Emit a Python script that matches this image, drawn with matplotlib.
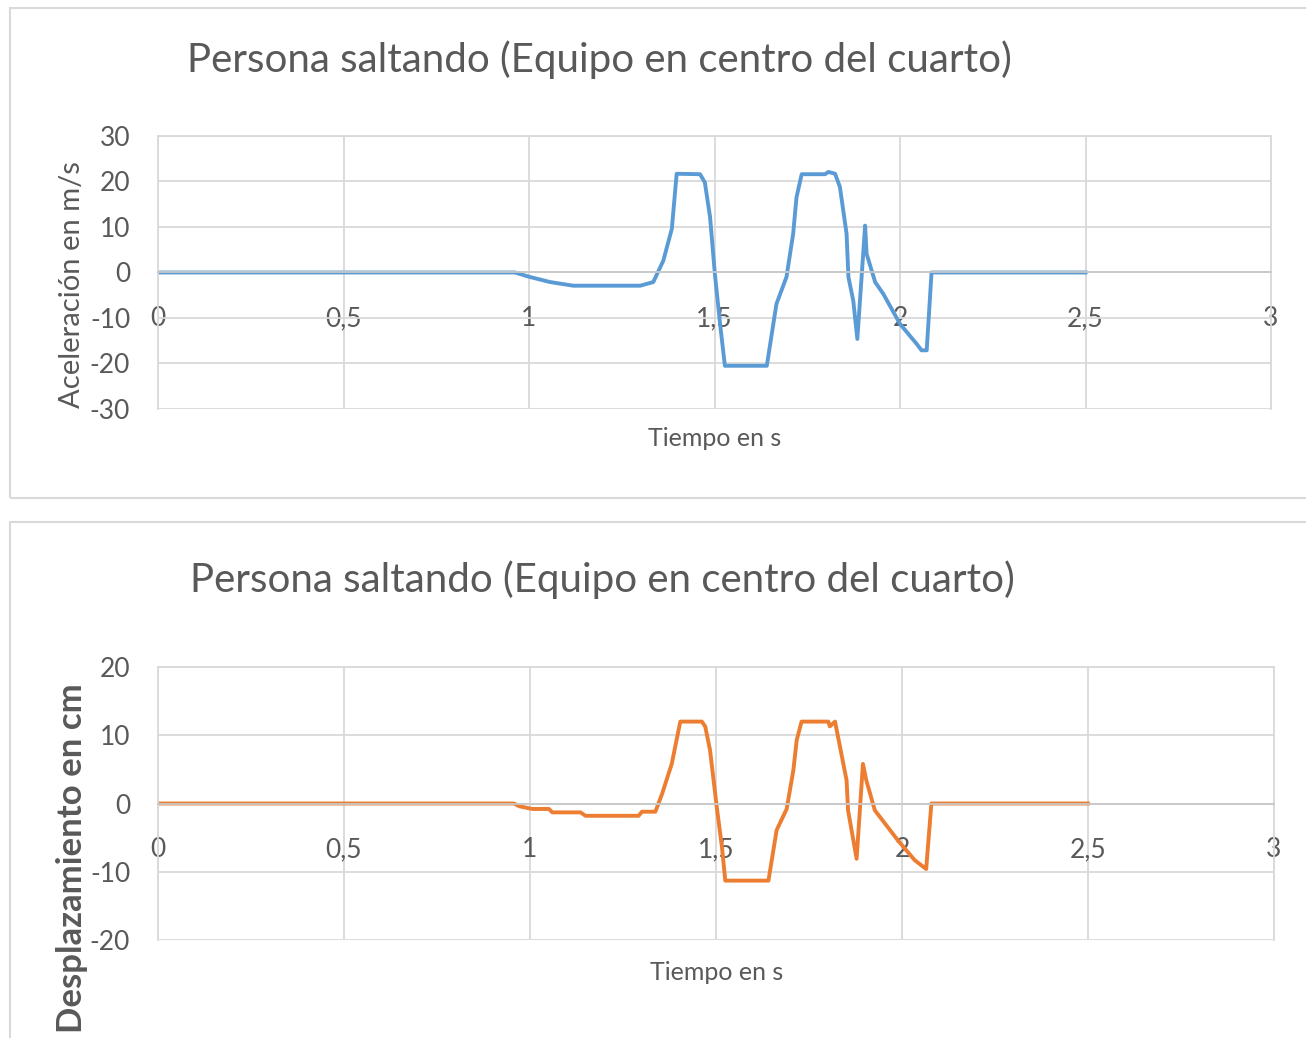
import numpy as np
import matplotlib.pyplot as plt
from matplotlib.patches import Rectangle

plt.rcParams['font.family'] = ['Lato', 'DejaVu Sans']
plt.rcParams['axes.unicode_minus'] = False

# acceleration series
t_acc = [0, 0.962, 1.003, 1.057, 1.119, 1.30, 1.335, 1.362, 1.385, 1.398, 1.461, 1.474,
         1.488, 1.501, 1.515, 1.528, 1.641, 1.667, 1.694, 1.712, 1.721, 1.735, 1.798,
         1.807, 1.825, 1.838, 1.856, 1.861, 1.874, 1.885, 1.906, 1.910, 1.933, 1.955,
         2.0, 2.045, 2.058, 2.072, 2.085, 2.5]
acc = [0, 0, -1.0, -2.1, -2.9, -2.9, -2.1, 2.6, 9.6, 21.7, 21.6, 19.8,
       12.2, -0.3, -11.3, -20.5, -20.5, -6.9, -1.0, 8.5, 16.5, 21.6, 21.6,
       22.1, 21.7, 18.8, 8.5, -1.0, -6.2, -14.6, 10.3, 4.1, -2.1, -4.7,
       -11.3, -15.7, -17.1, -17.1, 0, 0]

# displacement series
t_disp = [0, 0.957, 0.971, 1.006, 1.051, 1.06, 1.136, 1.149, 1.292, 1.301, 1.337, 1.355,
          1.381, 1.404, 1.462, 1.471, 1.484, 1.502, 1.516, 1.525, 1.641, 1.663, 1.69,
          1.708, 1.717, 1.730, 1.802, 1.806, 1.82, 1.851, 1.855, 1.878, 1.895, 1.904,
          1.927, 1.989, 2.034, 2.065, 2.079, 2.5]
disp = [0, 0, -0.4, -0.8, -0.8, -1.3, -1.3, -1.8, -1.8, -1.2, -1.2, 1.4,
        5.8, 12.0, 12.0, 11.3, 7.8, -0.5, -6.4, -11.3, -11.3, -3.9, -0.8,
        4.9, 9.3, 12.0, 12.0, 11.3, 12.0, 3.4, -1.0, -8.1, 5.8, 3.4,
        -1.0, -5.4, -8.3, -9.6, 0, 0]

x_ticks = [0, 0.5, 1, 1.5, 2, 2.5, 3]
x_labels = ['0', '0,5', '1', '1,5', '2', '2,5', '3']
acc_ticks = [-30, -20, -10, 0, 10, 20, 30]
disp_ticks = [-20, -10, 0, 10, 20]

title = 'Persona saltando (Equipo en centro del cuarto)'
txt = '#595959'
grid_c = '#d9d9d9'

fig = plt.figure(figsize=(13.06, 10.38), dpi=100)

# chart frames
for (x0, y0, w, h) in [(10, 8, 1310, 490), (10, 522, 1310, 530)]:
    fig.patches.append(Rectangle((x0 / 1306, 1 - (y0 + h) / 1038), w / 1306, h / 1038,
                                 transform=fig.transFigure, fill=False,
                                 edgecolor=grid_c, lw=1.5))


def setup(ax, yticks, lim):
    ax.set_xlim(0, 3)
    ax.set_ylim(-lim, lim)
    ax.set_xticks(x_ticks)
    ax.set_xticklabels(x_labels)
    ax.set_yticks(yticks)
    ax.grid(True, color=grid_c, lw=1.3)
    ax.set_axisbelow(True)
    for s in ['top', 'right', 'left']:
        ax.spines[s].set_color(grid_c)
        ax.spines[s].set_linewidth(1.3)
    ax.spines['bottom'].set_position(('data', 0))
    ax.spines['bottom'].set_color('#c8c8c8')
    ax.spines['bottom'].set_linewidth(1.3)
    ax.tick_params(length=0, labelsize=19, labelcolor=txt)
    ax.tick_params(axis='x', pad=24)
    ax.tick_params(axis='y', pad=20)


ax1 = fig.add_axes([158 / 1306, 1 - 409 / 1038, 1113 / 1306, 273 / 1038])
setup(ax1, acc_ticks, 30)
ax1.plot(t_acc, acc, color='#5B9BD5', lw=2.8)

ax2 = fig.add_axes([158 / 1306, 1 - 940 / 1038, 1116 / 1306, 273 / 1038])
setup(ax2, disp_ticks, 20)
ax2.plot(t_disp, disp, color='#ED7D31', lw=2.8)

fig.text(599 / 1306, 1 - 60 / 1038, title, ha='center', va='center', fontsize=29, color=txt)
fig.text(602 / 1306, 1 - 580 / 1038, title, ha='center', va='center', fontsize=29, color=txt)

fig.text(715 / 1306, 1 - 438 / 1038, 'Tiempo en s', ha='center', va='center', fontsize=18, color=txt)
fig.text(717 / 1306, 1 - 972 / 1038, 'Tiempo en s', ha='center', va='center', fontsize=18, color=txt)

fig.text(72 / 1306, 1 - 285 / 1038, 'Aceleración en m/s', ha='center', va='center',
         rotation=90, fontsize=21, color=txt)
fig.text(72 / 1306, 1 - 858 / 1038, 'Desplazamiento en cm', ha='center', va='center',
         rotation=90, fontsize=25, color=txt, fontweight='bold')

fig.savefig('out.png', dpi=100)
